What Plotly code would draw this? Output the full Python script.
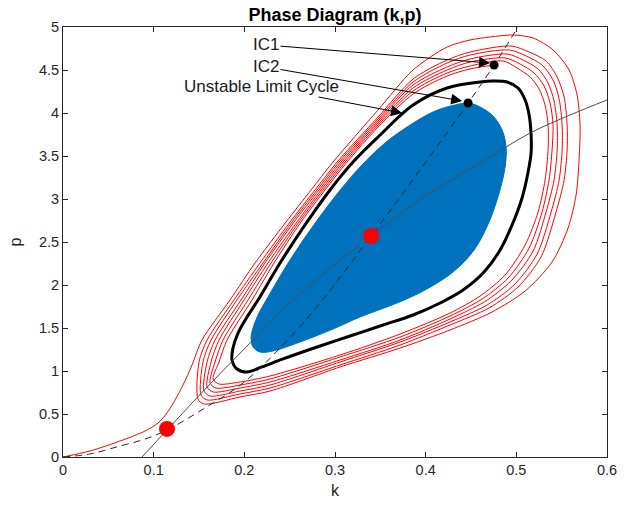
import plotly.graph_objects as go

# ---------------- data ----------------
x_ticks = [0, 0.1, 0.2, 0.3, 0.4, 0.5, 0.6]
y_ticks = [0, 0.5, 1, 1.5, 2, 2.5, 3, 3.5, 4, 4.5, 5]

# blue inward spiral (outer envelope)
blue_k = [0.4468, 0.4600, 0.4743, 0.4843, 0.4887, 0.4876, 0.4810, 0.4699, 0.4534, 0.4302,
          0.3993, 0.3685, 0.3276, 0.2978, 0.2614, 0.2317, 0.2173, 0.2096, 0.2074, 0.2096,
          0.2162, 0.2261, 0.2504, 0.2758, 0.3023, 0.3276, 0.3552, 0.3828, 0.4104, 0.4324, 0.4468]
blue_p = [4.116, 4.070, 3.965, 3.802, 3.605, 3.372, 3.070, 2.733, 2.407, 2.151,
          1.942, 1.791, 1.628, 1.488, 1.337, 1.233, 1.221, 1.279, 1.384, 1.500,
          1.674, 1.860, 2.291, 2.686, 3.058, 3.372, 3.651, 3.860, 4.023, 4.093, 4.116]

# unstable limit cycle
lc_k = [0.2030, 0.1919, 0.1864, 0.1875, 0.1931, 0.2030, 0.2151, 0.2394, 0.2692, 0.2945,
        0.3199, 0.3475, 0.3861, 0.4236, 0.4600, 0.4743, 0.4898, 0.5019, 0.5097, 0.5141,
        0.5163, 0.5163, 0.5130, 0.5063, 0.4953, 0.4821, 0.4644, 0.4413, 0.4159, 0.3861,
        0.3530, 0.3166, 0.2802, 0.2427, 0.2195, 0.2030]
lc_p = [0.988, 1.023, 1.128, 1.267, 1.442, 1.628, 1.826, 2.256, 2.733, 3.105,
        3.430, 3.721, 4.093, 4.291, 4.360, 4.372, 4.360, 4.291, 4.151, 3.977,
        3.744, 3.535, 3.314, 3.012, 2.698, 2.407, 2.151, 1.942, 1.791, 1.651,
        1.535, 1.407, 1.279, 1.140, 1.047, 0.988]

# red outward trajectory from IC1, loop by loop
red1_k = [0.4755, 0.4490, 0.4236, 0.3861, 0.3475, 0.3133, 0.2890, 0.2625, 0.2328, 0.2085,
          0.1809, 0.1721, 0.1655, 0.1721, 0.1953, 0.2283, 0.3056, 0.3718, 0.4269, 0.4600,
          0.4876, 0.5097, 0.5240, 0.5317, 0.5350, 0.5350, 0.5317, 0.5251, 0.5152, 0.5008]
red1_p = [4.558, 4.512, 4.430, 4.221, 3.837, 3.430, 3.105, 2.733, 2.256, 1.826,
          1.360, 1.105, 0.907, 0.849, 0.872, 0.942, 1.186, 1.430, 1.674, 1.872,
          2.116, 2.465, 2.849, 3.221, 3.570, 3.860, 4.093, 4.279, 4.419, 4.523]
red2_k = [0.4854, 0.4490, 0.4236, 0.3861, 0.3475, 0.3111, 0.2868, 0.2603, 0.2295, 0.2041,
          0.1765, 0.1677, 0.1622, 0.1688, 0.1953, 0.2283, 0.3056, 0.3718, 0.4269, 0.4622,
          0.4909, 0.5141, 0.5284, 0.5361, 0.5394, 0.5405, 0.5372, 0.5306, 0.5196, 0.5041]
red2_p = [4.605, 4.547, 4.465, 4.256, 3.860, 3.430, 3.105, 2.733, 2.256, 1.826,
          1.360, 1.105, 0.860, 0.802, 0.837, 0.907, 1.163, 1.395, 1.640, 1.837,
          2.081, 2.430, 2.849, 3.221, 3.570, 3.860, 4.116, 4.314, 4.465, 4.570]
red3_k = [0.4876, 0.4490, 0.4236, 0.3861, 0.3475, 0.3089, 0.2846, 0.2581, 0.2261, 0.1997,
          0.1721, 0.1633, 0.1589, 0.1655, 0.1953, 0.2283, 0.3056, 0.3718, 0.4269, 0.4644,
          0.4942, 0.5185, 0.5328, 0.5416, 0.5450, 0.5450, 0.5416, 0.5350, 0.5240, 0.5074]
red3_p = [4.640, 4.593, 4.500, 4.291, 3.884, 3.430, 3.105, 2.733, 2.256, 1.826,
          1.360, 1.105, 0.814, 0.756, 0.802, 0.872, 1.128, 1.360, 1.605, 1.802,
          2.047, 2.395, 2.849, 3.221, 3.570, 3.860, 4.140, 4.349, 4.512, 4.616]
red4_k = [0.4898, 0.4490, 0.4236, 0.3861, 0.3475, 0.3067, 0.2824, 0.2548, 0.2228, 0.1964,
          0.1677, 0.1589, 0.1555, 0.1622, 0.1953, 0.2283, 0.3056, 0.3718, 0.4269, 0.4677,
          0.4986, 0.5229, 0.5384, 0.5472, 0.5505, 0.5505, 0.5472, 0.5405, 0.5284, 0.5108]
red4_p = [4.686, 4.628, 4.535, 4.326, 3.907, 3.430, 3.105, 2.733, 2.256, 1.826,
          1.360, 1.105, 0.767, 0.709, 0.767, 0.837, 1.105, 1.337, 1.570, 1.767,
          2.012, 2.360, 2.849, 3.221, 3.570, 3.860, 4.163, 4.384, 4.558, 4.663]
red5_k = [0.4920, 0.4490, 0.4236, 0.3861, 0.3475, 0.3045, 0.2802, 0.2526, 0.2206, 0.1919,
          0.1633, 0.1544, 0.1522, 0.1589, 0.1953, 0.2283, 0.3056, 0.3718, 0.4269, 0.4699,
          0.5019, 0.5273, 0.5438, 0.5527, 0.5560, 0.5560, 0.5527, 0.5450, 0.5328, 0.5141]
red5_p = [4.733, 4.674, 4.581, 4.360, 3.930, 3.430, 3.105, 2.733, 2.256, 1.826,
          1.360, 1.105, 0.721, 0.663, 0.733, 0.802, 1.070, 1.302, 1.535, 1.733,
          1.977, 2.326, 2.849, 3.221, 3.570, 3.860, 4.186, 4.419, 4.605, 4.709]
red6_k = [0.4942, 0.4490, 0.4236, 0.3861, 0.3475, 0.3023, 0.2780, 0.2504, 0.2173, 0.1886,
          0.1589, 0.1500, 0.1489, 0.1555, 0.1953, 0.2283, 0.3056, 0.3718, 0.4269, 0.4732,
          0.5097, 0.5394, 0.5571, 0.5659, 0.5692, 0.5703, 0.5670, 0.5582, 0.5405, 0.5185]
red6_p = [4.779, 4.709, 4.616, 4.395, 3.953, 3.430, 3.105, 2.733, 2.256, 1.826,
          1.360, 1.105, 0.674, 0.616, 0.698, 0.767, 1.047, 1.267, 1.477, 1.686,
          1.930, 2.267, 2.663, 3.047, 3.453, 3.860, 4.209, 4.500, 4.733, 4.872]
red_tail_k = [0.4964, 0.4710, 0.4490, 0.4236, 0.3861, 0.3475, 0.2978, 0.2736, 0.2460, 0.2118,
              0.1842, 0.1533, 0.1423, 0.1324, 0.1236, 0.1147, 0.1048, 0.0905, 0.0662, 0.0298, 0.0]
red_tail_p = [4.907, 4.884, 4.849, 4.767, 4.500, 4.035, 3.430, 3.105, 2.733, 2.256,
              1.826, 1.360, 1.070, 0.837, 0.663, 0.512, 0.395, 0.302, 0.198, 0.070, 0.0]

# nullclines
dash_k = [0.0, 0.0298, 0.0629, 0.0905, 0.1147, 0.1566, 0.1986, 0.2394, 0.2835, 0.3398,
          0.3938, 0.4468, 0.4755, 0.5019]
dash_p = [0.0, 0.035, 0.128, 0.209, 0.314, 0.570, 0.860, 1.267, 1.791, 2.570,
          3.337, 4.116, 4.558, 5.0]
solid_k = [0.0871, 0.1147, 0.1622, 0.2173, 0.2537, 0.3398, 0.4049, 0.4600, 0.5152, 0.5593, 0.6]
solid_p = [0.0, 0.314, 0.849, 1.442, 1.826, 2.570, 3.070, 3.419, 3.767, 3.977, 4.151]

# equilibria and initial conditions
eq_k = [0.1147, 0.3398]
eq_p = [0.326, 2.570]
ic_k = [0.4755, 0.4468]
ic_p = [4.558, 4.116]

# annotations: (label, text k, text p, tip k, tip p)
ann_labels = ["IC1", "IC2", "Unstable Limit Cycle"]
ann_text_k = [0.2239, 0.2239, 0.2184]
ann_text_p = [4.791, 4.535, 4.314]
ann_tip_k = [0.4710, 0.4402, 0.3740]
ann_tip_p = [4.581, 4.140, 4.000]

# ---------------- figure ----------------
FONT = "Liberation Sans, Arial, Helvetica, sans-serif"
AX = "#262626"

red_k = red1_k + red2_k + red3_k + red4_k + red5_k + red6_k + red_tail_k
red_p = red1_p + red2_p + red3_p + red4_p + red5_p + red6_p + red_tail_p

fig = go.Figure()
fig.add_trace(go.Scatter(x=blue_k, y=blue_p, mode="lines", fill="toself",
                         fillcolor="#0072BD",
                         line=dict(color="#0072BD", width=1, shape="spline", smoothing=1.0),
                         hoverinfo="skip", showlegend=False))
fig.add_trace(go.Scatter(x=red_k, y=red_p, mode="lines",
                         line=dict(color="#FF0000", width=1, shape="spline", smoothing=0.8),
                         showlegend=False))
fig.add_trace(go.Scatter(x=lc_k, y=lc_p, mode="lines",
                         line=dict(color="black", width=3, shape="spline", smoothing=1.0),
                         showlegend=False))
fig.add_trace(go.Scatter(x=dash_k, y=dash_p, mode="lines",
                         line=dict(color="#2b2b2b", width=1, dash="7px,5px", shape="spline"),
                         showlegend=False))
fig.add_trace(go.Scatter(x=solid_k, y=solid_p, mode="lines",
                         line=dict(color="#4d4d4d", width=1, shape="spline"),
                         showlegend=False))
fig.add_trace(go.Scatter(x=eq_k, y=eq_p, mode="markers",
                         marker=dict(color="#FF0000", size=16, line=dict(width=0)),
                         showlegend=False))
fig.add_trace(go.Scatter(x=ic_k, y=ic_p, mode="markers",
                         marker=dict(color="black", size=9, line=dict(width=0)),
                         showlegend=False))

for lab, tk, tp, hk, hp in zip(ann_labels, ann_text_k, ann_text_p, ann_tip_k, ann_tip_p):
    fig.add_annotation(x=hk, y=hp, ax=tk, ay=tp, xref="x", yref="y", axref="x", ayref="y",
                       text=lab, showarrow=True, arrowhead=2, arrowsize=2.2, arrowwidth=1,
                       arrowcolor="black", standoff=0, startstandoff=0,
                       font=dict(family=FONT, size=17, color="#1a1a1a"))

fig.update_layout(
    width=638, height=512,
    margin=dict(l=63, r=31, t=27, b=55),
    paper_bgcolor="white", plot_bgcolor="white",
    font=dict(family=FONT, size=14.5, color=AX),
    title=dict(text="<b>Phase Diagram (k,p)</b>", x=0.525, xanchor="center",
               y=0.972, yanchor="middle", yref="container",
               font=dict(family=FONT, size=18, color="black")),
    showlegend=False,
)
fig.update_xaxes(range=[0, 0.6], tickvals=x_ticks, ticktext=[f"{v:g}" for v in x_ticks],
                 showline=True, linecolor=AX, linewidth=1, mirror="ticks",
                 ticks="inside", ticklen=5, tickcolor=AX, showgrid=False, zeroline=False,
                 title=dict(text="k", standoff=7, font=dict(size=16, color=AX)))
fig.update_yaxes(range=[0, 5], tickvals=y_ticks, ticktext=[f"{v:g}" for v in y_ticks],
                 showline=True, linecolor=AX, linewidth=1, mirror="ticks",
                 ticks="inside", ticklen=5, tickcolor=AX, showgrid=False, zeroline=False,
                 title=dict(text="p", standoff=13, font=dict(size=16, color=AX)))

fig.write_html("out.html")
